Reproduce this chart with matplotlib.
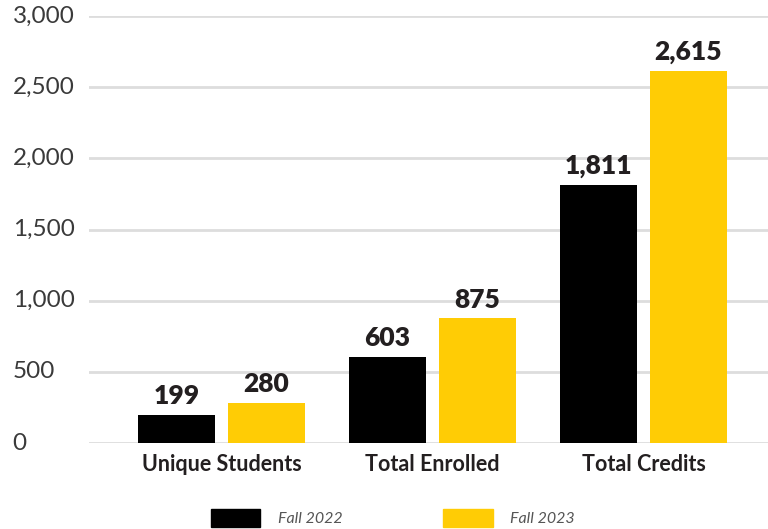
import matplotlib.pyplot as plt
import matplotlib.patches as mpatches
import numpy as np

# data
categories = ['Unique Students', 'Total Enrolled', 'Total Credits']
fall_2022 = [199, 603, 1811]
fall_2023 = [280, 875, 2615]
y_ticks = [0, 500, 1000, 1500, 2000, 2500, 3000]

black = '#000000'
yellow = '#FFCC05'
text_col = '#231F20'

plt.rcParams['font.family'] = ['Lato', 'DejaVu Sans']

fig = plt.figure(figsize=(7.68, 5.29), dpi=100)
ax = fig.add_axes([89 / 768, 1 - 443 / 529, 1 - 89 / 768, (443 - 16) / 529])

x = np.arange(len(categories))
w = 0.365
off = 0.213
b1 = ax.bar(x - off, fall_2022, w, color=black, zorder=3)
b2 = ax.bar(x + off, fall_2023, w, color=yellow, zorder=3)

# value labels above bars
for bars, vals in [(b1, fall_2022), (b2, fall_2023)]:
    for rect, v in zip(bars, vals):
        ax.annotate(f'{v:,}', (rect.get_x() + rect.get_width() / 2, v),
                    xytext=(0, 5), textcoords='offset points',
                    ha='center', va='bottom', fontsize=19, fontweight='heavy',
                    color=text_col)

ax.set_xlim(-0.628, 2.59)
ax.set_ylim(0, 3000)
ax.set_yticks(y_ticks)
ax.set_yticklabels([f'{t:,}' for t in y_ticks])
ax.set_xticks(x)
ax.set_xticklabels(categories, fontsize=15.5, fontweight='bold', color=text_col)

ax.yaxis.grid(True, color='#DDDDDD', linewidth=2, zorder=0)
ax.set_axisbelow(True)
for s in ax.spines.values():
    s.set_visible(False)

ax.tick_params(axis='y', length=0, pad=55, labelsize=17.5, labelcolor='#3A3A3A')
ax.tick_params(axis='x', length=0, pad=8)
for lbl in ax.get_yticklabels():
    lbl.set_horizontalalignment('left')
    lbl.set_verticalalignment('center')

handles = [mpatches.Patch(color=black, label='Fall 2022'),
           mpatches.Patch(color=yellow, label='Fall 2023')]
leg = fig.legend(handles=handles, loc='center', bbox_to_anchor=(393 / 768, 1 - 518 / 529),
                 ncol=2, frameon=False, handlelength=3.1, handleheight=1.4,
                 handletextpad=1.1, columnspacing=6.3,
                 prop={'size': 11.5, 'style': 'italic'})
for t in leg.get_texts():
    t.set_color('#555555')

fig.savefig('out.png', dpi=100)
